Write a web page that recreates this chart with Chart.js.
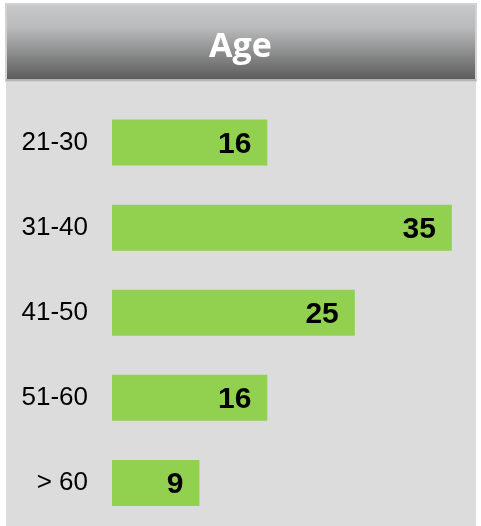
<!DOCTYPE html>
<html>
<head>
<meta charset="utf-8">
<script src="https://cdn.jsdelivr.net/npm/chart.js@4"></script>
<style>
html,body{margin:0;padding:0;background:#ffffff;}
#wrap{width:481px;height:526px;position:relative;}
</style>
</head>
<body>
<div id="wrap"><canvas id="c" width="481" height="526"></canvas></div>
<script>
const chartTitle = "Age";
const categories = ["21-30", "31-40", "41-50", "51-60", "> 60"];
const counts = [16, 35, 25, 16, 9];

const panelPlugin = {
  id: 'panel',
  beforeDraw(chart) {
    const ctx = chart.ctx;
    ctx.save();
    ctx.fillStyle = '#ffffff';
    ctx.fillRect(0, 0, 481, 526);
    ctx.fillStyle = '#dcdcdc';
    ctx.fillRect(6, 4, 470, 522);
    ctx.fillStyle = '#d2d2d2';
    ctx.fillRect(5, 3, 472, 79);
    const g = ctx.createLinearGradient(0, 5, 0, 79);
    g.addColorStop(0, '#c6c7c8');
    g.addColorStop(0.3, '#babbbc');
    g.addColorStop(1, '#5d5d5d');
    ctx.fillStyle = g;
    ctx.fillRect(7, 5, 468, 74);
    ctx.fillStyle = '#b4b4b4';
    ctx.fillRect(6, 79, 470, 2);
    ctx.restore();
  }
};

const valuePlugin = {
  id: 'values',
  afterDatasetsDraw(chart) {
    const ctx = chart.ctx;
    const meta = chart.getDatasetMeta(0);
    ctx.save();
    ctx.fillStyle = '#000000';
    ctx.font = 'bold 30px "Liberation Sans", Arial, sans-serif';
    ctx.textAlign = 'right';
    ctx.textBaseline = 'middle';
    meta.data.forEach((el, i) => {
      ctx.fillText(String(chart.data.datasets[0].data[i]), el.x - 16, el.y + 2);
    });
    ctx.restore();
  }
};

new Chart(document.getElementById('c'), {
  type: 'bar',
  data: {
    labels: categories,
    datasets: [{
      data: counts,
      backgroundColor: '#92d050',
      borderWidth: 0,
      barPercentage: 0.54,
      categoryPercentage: 1.0
    }]
  },
  options: {
    indexAxis: 'y',
    responsive: false,
    animation: false,
    events: [],
    layout: { padding: { left: 0, right: 0, top: 0, bottom: 0.5 } },
    plugins: {
      legend: { display: false },
      tooltip: { enabled: false },
      title: {
        display: true,
        text: chartTitle,
        color: '#ffffff',
        font: { family: '"Open Sans", sans-serif', weight: 'bold', size: 34, lineHeight: 1.2 },
        padding: { top: 27, bottom: 32.2 }
      }
    },
    scales: {
      x: {
        display: false,
        min: 0,
        max: 38
      },
      y: {
        grid: { display: false, drawTicks: false },
        border: { display: false },
        ticks: {
          color: '#000000',
          padding: 24,
          font: { family: '"Liberation Sans", Arial, sans-serif', size: 26 }
        },
        afterFit(scale) {
          scale.width = 112;
          scale.paddingTop = 0;
          scale.paddingBottom = 0;
        }
      }
    }
  },
  plugins: [panelPlugin, valuePlugin]
});
</script>
</body>
</html>
